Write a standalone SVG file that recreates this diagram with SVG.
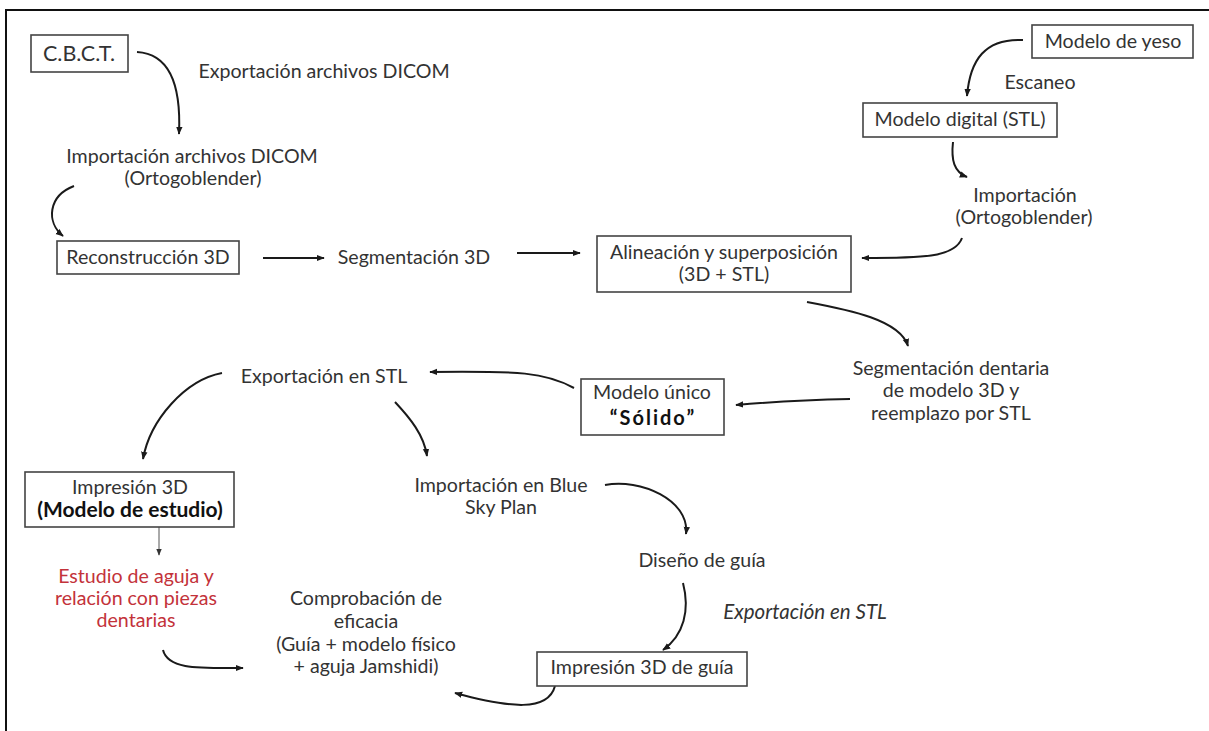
<svg xmlns="http://www.w3.org/2000/svg" width="1209" height="731" viewBox="0 0 1209 731">
<defs>
<marker id="ah" viewBox="0 0 10 10" refX="9" refY="5" markerWidth="8" markerHeight="8" markerUnits="userSpaceOnUse" orient="auto">
<path d="M0,1 L10,5 L0,9 z" fill="#1a1a1a"/>
</marker>
<marker id="ahs" viewBox="0 0 10 10" refX="9" refY="5" markerWidth="7" markerHeight="7" markerUnits="userSpaceOnUse" orient="auto">
<path d="M0,1 L10,5 L0,9 z" fill="#333"/>
</marker>
<style>
text{font-family:Lato,"Noto Sans","Liberation Sans",sans-serif;font-size:19.6px;fill:#333;text-anchor:middle}
.b{font-weight:bold;fill:#111;font-size:21px}
.q{letter-spacing:2px;font-size:20px}
.i{font-style:italic;font-size:20.5px}
.big{font-size:21.5px}
.red{fill:#c3323a}
.box{fill:#fff;stroke:#444;stroke-width:1.6}
.c{fill:none;stroke:#1a1a1a;stroke-width:2;marker-end:url(#ah)}
.t{fill:none;stroke:#555;stroke-width:1;marker-end:url(#ahs)}
</style>
</defs>
<rect width="1209" height="731" fill="#fff"/>
<path d="M6,731 V10 H1209" fill="none" stroke="#111" stroke-width="2"/>

<g id="connectors">
<path class="c" d="M137,52 C172,54 181,90 179,134"/>
<path class="c" d="M74,186 C48,196 46,222 63,236"/>
<path class="c" d="M263,258 H324"/>
<path class="c" d="M517,253 H580"/>
<path class="c" d="M1023,40 C985,38 970,60 967,96"/>
<path class="c" d="M953,142 C951,160 954,172 967,177"/>
<path class="c" d="M962,238 C955,258 920,258 862,258"/>
<path class="c" d="M807,302 C850,310 900,320 908,346"/>
<path class="c" d="M850,399 C800,400 770,402 736,405"/>
<path class="c" d="M574,388 C545,372 520,371 430,372"/>
<path class="c" d="M222,373 C185,380 150,420 143,459"/>
<path class="c" d="M395,402 C410,418 424,435 427,456"/>
<path class="t" d="M159,527 V555"/>
<path class="c" d="M163,650 C168,670 200,668 243,668"/>
<path class="c" d="M605,485 C640,478 690,500 686,534"/>
<path class="c" d="M683,583 C690,610 684,635 663,650"/>
<path class="c" d="M555,686 C548,712 510,708 455,693"/>
</g>

<g id="cbct"><rect class="box" x="31" y="35" width="97" height="37"/><text class="big" x="79" y="61">C.B.C.T.</text></g>
<g id="lbl-export-dicom"><text x="324" y="78">Exportación archivos DICOM</text></g>
<g id="import-dicom"><text x="192" y="163">Importación archivos DICOM</text><text x="193" y="185">(Ortogoblender)</text></g>
<g id="reconstruccion"><rect class="box" x="57" y="241" width="182" height="33"/><text x="148" y="264">Reconstrucción 3D</text></g>
<g id="segmentacion"><text x="414" y="264">Segmentación 3D</text></g>
<g id="alineacion"><rect class="box" x="597" y="236" width="254" height="56"/><text x="724" y="259">Alineación y superposición</text><text x="724" y="281">(3D + STL)</text></g>
<g id="yeso"><rect class="box" x="1032" y="25" width="161" height="33"/><text x="1113" y="48">Modelo de yeso</text></g>
<g id="lbl-escaneo"><text x="1040" y="89">Escaneo</text></g>
<g id="digital"><rect class="box" x="863" y="103" width="194" height="34"/><text x="960" y="126">Modelo digital (STL)</text></g>
<g id="importacion-orto"><text x="1025" y="202">Importación</text><text x="1024" y="224">(Ortogoblender)</text></g>
<g id="seg-dentaria"><text x="951" y="375">Segmentación dentaria</text><text x="951" y="397">de modelo 3D y</text><text x="951" y="420">reemplazo por STL</text></g>
<g id="modelo-unico"><rect class="box" x="581" y="379" width="143" height="56"/><text x="652" y="399">Modelo único</text><text class="b q" x="653" y="425">“Sólido”</text></g>
<g id="export-stl"><text x="324" y="383">Exportación en STL</text></g>
<g id="impresion"><rect class="box" x="25" y="472" width="209" height="55"/><text x="130" y="494">Impresión 3D</text><text class="b" x="130" y="517">(Modelo de estudio)</text></g>
<g id="estudio"><text class="red" x="136" y="583">Estudio de aguja y</text><text class="red" x="136" y="605">relación con piezas</text><text class="red" x="136" y="627">dentarias</text></g>
<g id="comprobacion"><text x="366" y="605">Comprobación de</text><text x="366" y="628">eficacia</text><text x="366" y="651">(Guía + modelo físico</text><text x="366" y="673">+ aguja Jamshidi)</text></g>
<g id="blue-sky"><text x="501" y="492">Importación en Blue</text><text x="501" y="514">Sky Plan</text></g>
<g id="diseno"><text x="702" y="567">Diseño de guía</text></g>
<g id="lbl-export-stl2"><text class="i" x="805" y="619">Exportación en STL</text></g>
<g id="impresion-guia"><rect class="box" x="537" y="652" width="210" height="34"/><text x="642" y="674">Impresión 3D de guía</text></g>
</svg>
